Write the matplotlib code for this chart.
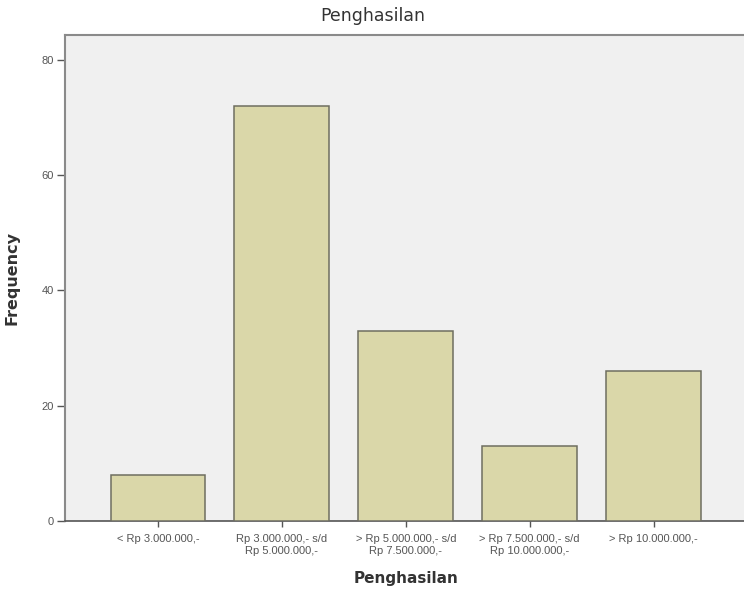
import matplotlib
matplotlib.use("Agg")
import matplotlib.pyplot as plt

# data
categories = [
    "< Rp 3.000.000,-",
    "Rp 3.000.000,- s/d\nRp 5.000.000,-",
    "> Rp 5.000.000,- s/d\nRp 7.500.000,-",
    "> Rp 7.500.000,- s/d\nRp 10.000.000,-",
    "> Rp 10.000.000,-",
]
frequency = [8, 72, 33, 13, 26]
y_ticks = [0, 20, 40, 60, 80]

plt.rcParams["font.family"] = ["Liberation Sans", "DejaVu Sans"]

fig = plt.figure(figsize=(7.44, 5.93), dpi=100)
ax = fig.add_axes([0.0874, 0.1214, 0.9126, 0.8196])
ax.set_facecolor("#f0f0f0")

x = list(range(len(categories)))
ax.bar(x, frequency, width=0.765, color="#dad7a9", edgecolor="#6e6e60", linewidth=1.1, zorder=3)

ax.set_xlim(-0.75, 4.73)
ax.set_ylim(0, 84.3)
ax.set_xticks(x)
ax.set_xticklabels(categories, fontsize=8, color="#555555", linespacing=1.3)
ax.set_yticks(y_ticks)
ax.set_yticklabels([str(v) for v in y_ticks], fontsize=8, color="#555555")

ax.tick_params(axis="y", direction="out", length=6, width=1, color="#555555", pad=2)
ax.tick_params(axis="x", direction="out", length=4, width=1, color="#555555", pad=5)

for side in ["left", "top"]:
    ax.spines[side].set_color("#8a8a8a")
    ax.spines[side].set_linewidth(1.5)
ax.spines["bottom"].set_color("#555555")
ax.spines["bottom"].set_linewidth(1.2)
ax.spines["right"].set_visible(False)

fig.text(373 / 744, 1 - 16 / 593, "Penghasilan", ha="center", va="center",
         fontsize=12.5, color="#333333", family=["DejaVu Sans"])
fig.text(406 / 744, 1 - 579 / 593, "Penghasilan", ha="center", va="center",
         fontsize=11, fontweight="bold", color="#333333", family=["DejaVu Sans"])
fig.text(12 / 744, 1 - 278 / 593, "Frequency", ha="center", va="center", rotation=90,
         fontsize=11.5, fontweight="bold", color="#333333", family=["DejaVu Sans"])

fig.savefig("out.png", dpi=100)
